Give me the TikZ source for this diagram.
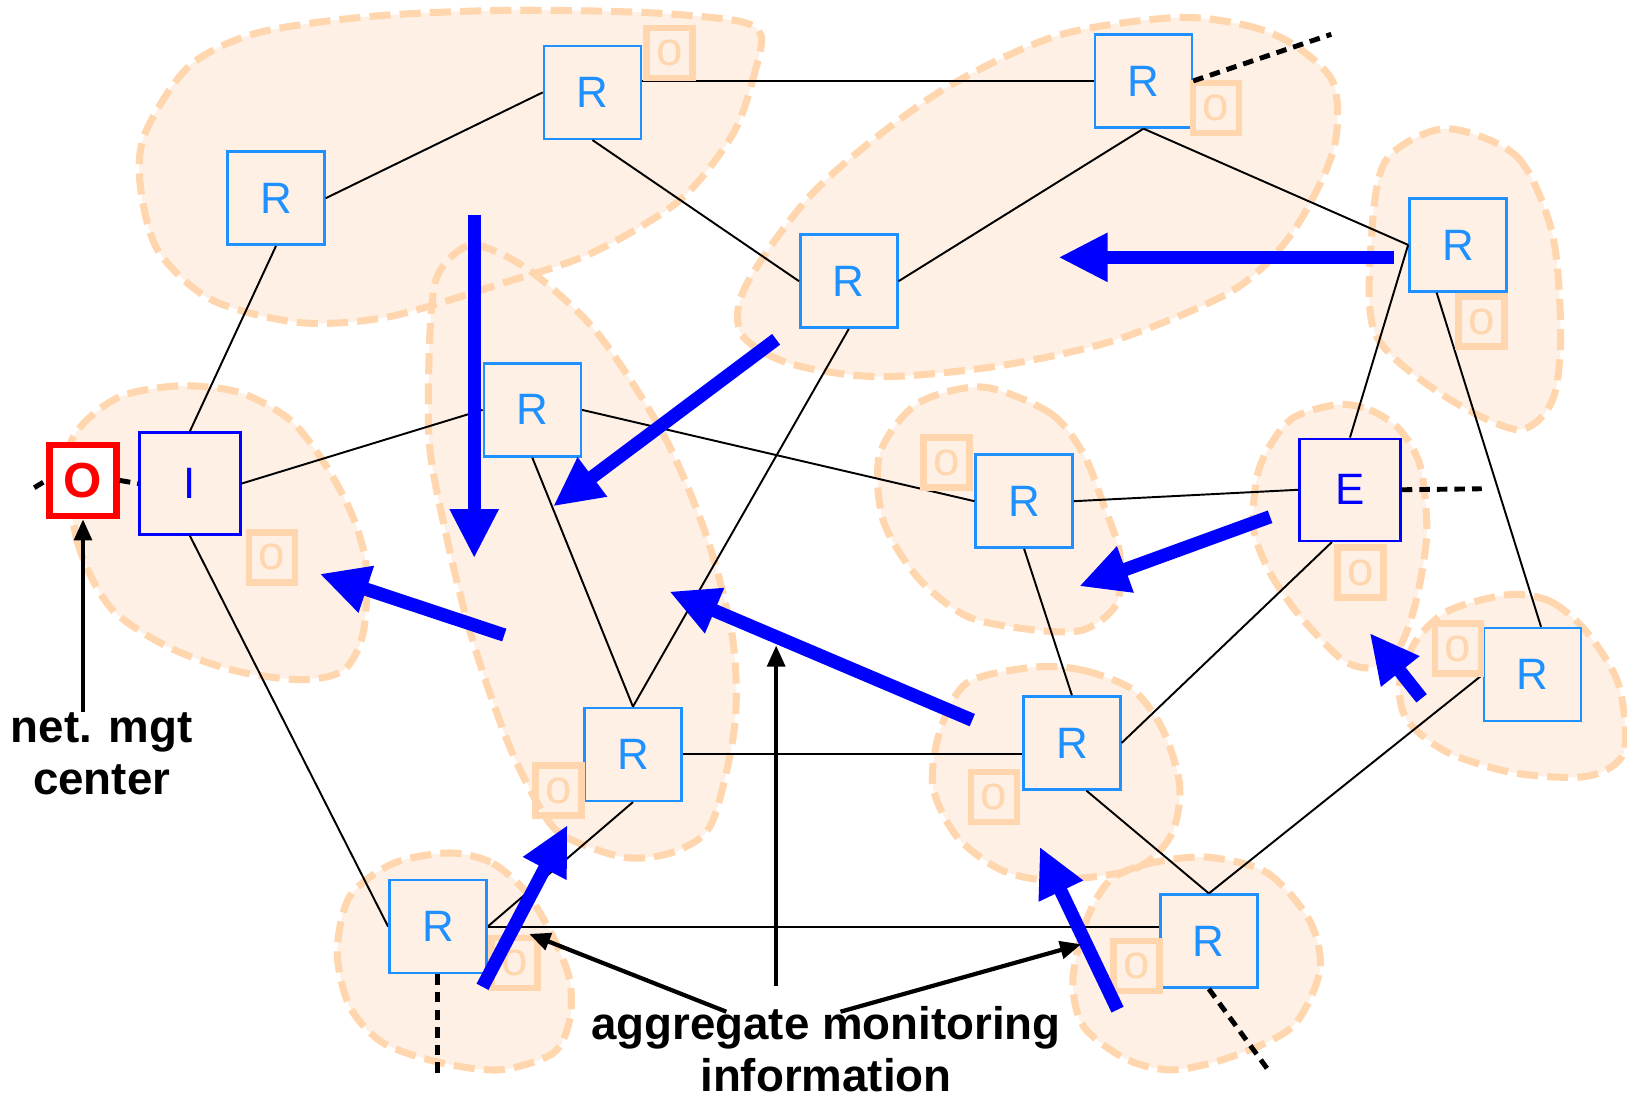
\documentclass[tikz,border=0pt]{standalone}
\usepackage{fontspec}
\setmainfont{Liberation Sans}
\usetikzlibrary{arrows.meta}
\definecolor{peachline}{HTML}{FFD6AE}
\definecolor{peachfill}{HTML}{FEF0E4}
\definecolor{routerblue}{HTML}{1E90FF}
\definecolor{netblue}{HTML}{0000FF}
\definecolor{mgtred}{HTML}{FF0000}

% management domains (dashed blobs), drawn twice: fill pass and border pass
\newcommand\domains[1]{%
  \path[#1] plot[smooth cycle] coordinates {(733,33) (729,64) (707,128) (655,193) (570,244) (484,273) (376,305) (290,311) (204,289) (152,241) (135,177) (140,128) (182,64) (247,32) (355,16) (484,10) (620,12) (710,20)};
  \path[#1] plot[smooth cycle] coordinates {(1131,17) (1199,24) (1245,42) (1285,80) (1285,145) (1245,225) (1188,280) (1074,328) (960,353) (846,363) (760,350) (714,321) (720,273) (789,180) (903,90) (1017,35)};
  \path[#1] plot[smooth cycle] coordinates {(1393,124) (1462,151) (1496,225) (1504,321) (1496,386) (1462,414) (1388,379) (1325,321) (1322,225) (1336,154)};
  \path[#1] plot[smooth cycle] coordinates {(67,430) (74,520) (106,585) (161,623) (225,646) (289,655) (331,646) (350,610) (353,546) (340,498) (315,450) (280,405) (230,378) (170,372) (110,385)};
  \path[#1] plot[smooth cycle] coordinates {(463,237) (511,261) (575,320) (639,418) (681,517) (706,615) (708,700) (686,793) (652,820) (609,827) (567,816) (532,796) (497,733) (471,665) (450,598) (431,520) (414,430) (414,330) (420,270) (440,243)};
  \path[#1] plot[smooth cycle] coordinates {(947,373) (1012,398) (1044,437) (1063,485) (1079,533) (1076,582) (1044,607) (996,607) (932,594) (884,556) (851,501) (848,437) (884,389)};
  \path[#1] plot[smooth cycle] coordinates {(1288,390) (1320,395) (1349,414) (1369,450) (1375,514) (1365,578) (1349,623) (1323,643) (1294,636) (1253,594) (1224,552) (1208,508) (1214,450) (1243,405)};
  \path[#1] plot[smooth cycle] coordinates {(1455,573) (1495,580) (1530,610) (1560,660) (1565,725) (1530,748) (1460,745) (1395,725) (1356,694) (1349,658) (1365,617) (1397,588)};
  \path[#1] plot[smooth cycle] coordinates {(996,643) (1044,646) (1092,665) (1121,704) (1137,758) (1128,806) (1092,838) (1012,848) (964,838) (922,806) (899,758) (906,704) (932,658)};
  \path[#1] plot[smooth cycle] coordinates {(434,822) (475,832) (508,861) (533,903) (549,944) (549,983) (533,1015) (482,1031) (424,1024) (369,1005) (337,970) (325,918) (337,864) (379,832)};
  \path[#1] plot[smooth cycle] coordinates {(1163,826) (1221,841) (1262,887) (1272,935) (1246,989) (1188,1018) (1131,1031) (1086,1021) (1044,989) (1034,944) (1047,887) (1070,848) (1108,832)};
}

\begin{document}
\begin{tikzpicture}[
    x=0.010376cm, y=-0.010376cm,
    every node/.style={font=\fontsize{12.5}{14}\selectfont},
    domainfill/.style={fill=peachfill},
    domainline/.style={draw=peachline, line width=2pt, dash pattern=on 6pt off 2.6pt},
    router/.style={draw=routerblue, fill=peachfill, line width=0.7pt, text=routerblue,
        minimum width=0.97cm, minimum height=0.93cm, inner sep=0pt},
    gateway/.style={router, draw=netblue, text=netblue, minimum width=1.01cm, minimum height=1.02cm},
    obox/.style={draw=peachline, line width=1.9pt, text=peachline, minimum width=0.46cm,
        minimum height=0.5cm, inner sep=0pt, font=\fontsize{13.5}{14}\selectfont},
    link/.style={line width=0.55pt},
    ext/.style={line width=1.4pt, dash pattern=on 3pt off 2pt},
    flow/.style={-{Triangle[length=14pt,width=13pt]}, netblue, line width=3.8pt},
    note/.style={-{Triangle[length=6pt,width=5pt]}, line width=1.2pt},
    lbl/.style={font=\fontsize{13}{14.8}\selectfont\bfseries, align=center, inner sep=0pt}
]
    \useasboundingbox (0,0) rectangle (1568,1058);

    % Domains
    \domains{domainfill}
    \domains{domainline}

    % Routers and gateways
    \node[router] (rnw) at (266,191) {R};
    \node[router] (rn) at (571,89) {R};
    \node[router] (rne) at (1102,78) {R};
    \node[router] (rmid) at (818,271) {R};
    \node[router] (re) at (1405,236) {R};
    \node[router] (rc) at (513,395) {R};
    \node[gateway] (ig) at (183,466) {I};
    \node[draw=mgtred, fill=white, line width=1.9pt, text=mgtred, minimum width=0.67cm,
        minimum height=0.71cm, inner sep=0pt, font=\fontsize{14}{16}\selectfont\bfseries] (omc) at (80,463) {O};
    \node[router] (rce) at (987,483) {R};
    \node[gateway] (eg) at (1301,472) {E};
    \node[router] (rse) at (1477,650) {R};
    \node[router] (rcs) at (610,727) {R};
    \node[router] (rsm) at (1033,716) {R};
    \node[router] (rsw) at (422,893) {R};
    \node[router] (rs) at (1165,907) {R};

    % Links
    \draw[link] (rnw.east) -- (rn.west);
    \draw[link] (rne.west) -- (rne.west -| rn.east);
    \draw[link] (rn.south) -- (rmid.west);
    \draw[link] (rne.south) -- (rmid.east);
    \draw[link] (rne.south) -- (re.west);
    \draw[link] (rnw.south) -- (ig.north);
    \draw[link] (ig.east) -- (rc.west);
    \draw[link] (rc.east) -- (rce.west);
    \draw[link] (rmid.south) -- (rcs.north);
    \draw[link] (rc.south) -- (rcs.north);
    \draw[link] (ig.south) -- (rsw.west);
    \draw[link] (rcs.east) -- (rcs.east -| rsm.west);
    \draw[link] (rcs.south) -- (rsw.east);
    \draw[link] (rsw.east) -- (rsw.east -| rs.west);
    \draw[link] (rce.east) -- (eg.west);
    \draw[link] (rce.south) -- (rsm.north);
    \draw[link] (eg.north) -- (re.west);
    \draw[link] (re.-114) -- (rse.80);
    \draw[link] (eg.-109) -- (rsm.east);
    \draw[link] (rsm.-73) -- (rs.north);
    \draw[link] (rse.west) -- (rs.north);

    % Monitoring agents
    \foreach \x/\y in {645/51, 1172/104, 1428/310, 262/537, 912/446, 1311/552,
                       1405/625, 538/762, 958/768, 496/928, 1095/931}
        \node[obox] at (\x,\y) {o};
    \node[router, fill=none] at (rsw) {};

    % Links leaving the picture
    \coordinate (oleft) at (33,470);
    \coordinate (nedash) at (1283,33);
    \coordinate (edash) at (1428,471);
    \coordinate (swdash) at (422,1040);
    \coordinate (sdash) at (1225,1035);
    \draw[ext] (oleft) -- (omc.west);
    \draw[ext] (omc.east) -- (ig.west);
    \draw[ext] (rne.east) -- (nedash);
    \draw[ext] (eg.east) -- (edash);
    \draw[ext] (rsw.south) -- (swdash);
    \draw[ext] (rs.south) -- (sdash);

    % Aggregated information flow
    \foreach \xa/\ya/\xb/\yb in {457/207/457/538, 748/327/533/488, 1343/248/1020/248,
                                 486/612/308/553, 937/694/645/570, 1224/498/1040/565,
                                 1370/673/1320/610, 465/951/547/795, 1077/973/1002/816}
        \draw[flow] (\xa,\ya) -- (\xb,\yb);

    % Labels
    \node[lbl] (nmc) at (98,726) {net. mgt\\center};
    \node[lbl] (agg) at (796,1011) {aggregate monitoring\\information};

    \coordinate (aggv) at (748,950);
    \coordinate (aggl) at (700,975);
    \coordinate (aggr) at (810,975);
    \coordinate (tipv) at (748,622);
    \coordinate (tipl) at (510,900);
    \coordinate (tipr) at (1042,910);
    \draw[note] (nmc.north -| omc.south) -- (omc.south);
    \draw[note] (aggv) -- (tipv);
    \draw[note] (aggl) -- (tipl);
    \draw[note] (aggr) -- (tipr);
\end{tikzpicture}
\end{document}
